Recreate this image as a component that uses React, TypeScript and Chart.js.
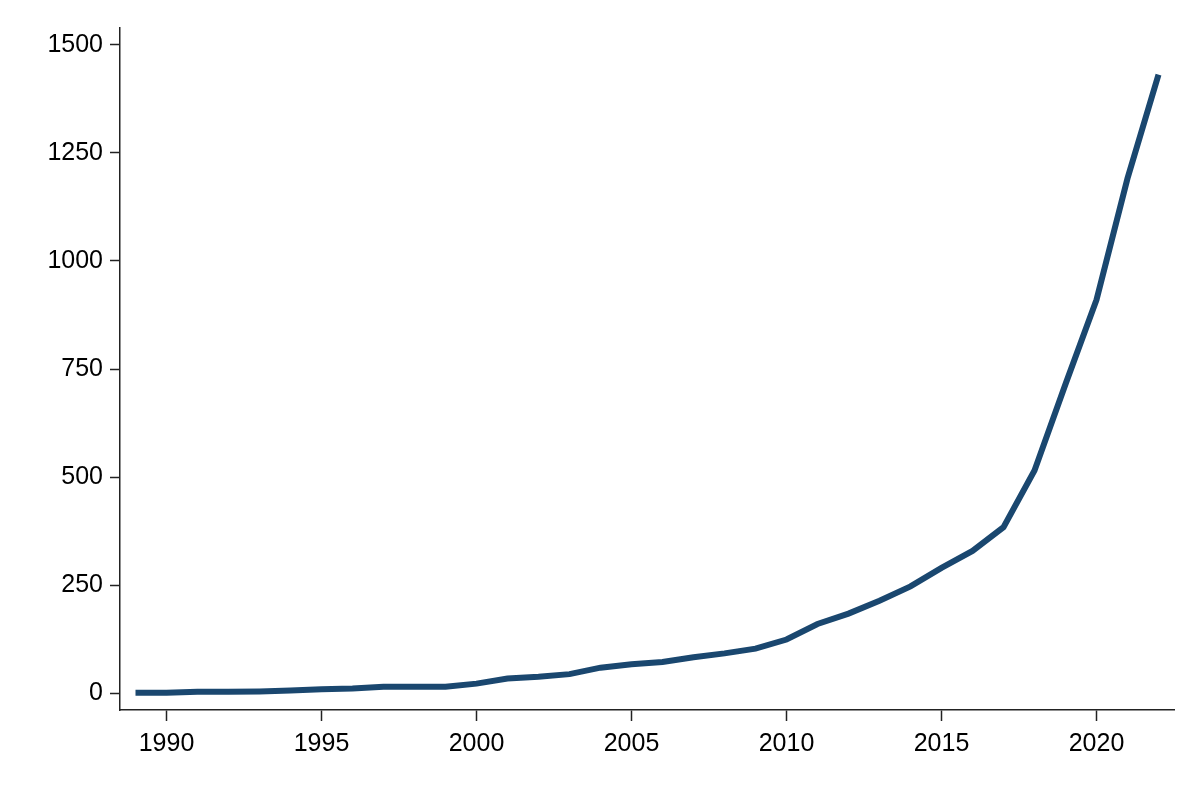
import React, { useEffect, useRef } from "react";
import Chart from "chart.js/auto";

const years: number[] = [
  1989, 1990, 1991, 1992, 1993, 1994, 1995, 1996, 1997, 1998, 1999, 2000,
  2001, 2002, 2003, 2004, 2005, 2006, 2007, 2008, 2009, 2010, 2011, 2012,
  2013, 2014, 2015, 2016, 2017, 2018, 2019, 2020, 2021, 2022,
];
const counts: number[] = [
  1, 1, 3, 3, 4, 6, 9, 11, 15, 15, 15, 22,
  34, 38, 44, 59, 67, 72, 83, 92, 103, 124, 160, 184,
  214, 247, 290, 329, 384, 515, 715, 910, 1191, 1431,
];
const yTicks: number[] = [0, 250, 500, 750, 1000, 1250, 1500];
const xTicks: number[] = [1990, 1995, 2000, 2005, 2010, 2015, 2020];

const App: React.FC = () => {
  const chartRef = useRef<HTMLCanvasElement>(null);
  const chartInstance = useRef<Chart | null>(null);

  useEffect(() => {
    if (!chartRef.current) return;
    if (chartInstance.current) chartInstance.current.destroy();

    const font = { family: "Liberation Sans, Arial, sans-serif", size: 25 };

    chartInstance.current = new Chart(chartRef.current, {
      type: "line",
      data: {
        datasets: [
          {
            data: years.map((y, i) => ({ x: y, y: counts[i] })),
            borderColor: "#1a476f",
            borderWidth: 6,
            pointRadius: 0,
            tension: 0,
            fill: false,
          },
        ],
      },
      options: {
        animation: false,
        responsive: false,
        layout: { padding: { top: 28, right: 26, left: 0, bottom: 0 } },
        plugins: { legend: { display: false }, tooltip: { enabled: false } },
        scales: {
          x: {
            type: "linear",
            min: 1988.5,
            max: 2022.5,
            afterBuildTicks: (axis: any) => {
              axis.ticks = xTicks.map((v) => ({ value: v }));
            },
            afterFit: (axis: any) => {
              axis.height = 90;
            },
            grid: {
              drawOnChartArea: false,
              drawTicks: true,
              tickLength: 11,
              tickWidth: 1.5,
              tickColor: "#222",
            },
            border: { display: true, color: "#222", width: 1.5 },
            ticks: {
              color: "#000",
              font,
              padding: 8,
              maxRotation: 0,
              callback: (v: any) => String(v),
            },
          },
          y: {
            min: -39,
            max: 1539,
            afterBuildTicks: (axis: any) => {
              axis.ticks = yTicks.map((v) => ({ value: v }));
            },
            afterFit: (axis: any) => {
              axis.width = 120;
            },
            grid: {
              drawOnChartArea: false,
              drawTicks: true,
              tickLength: 10,
              tickWidth: 1.5,
              tickColor: "#222",
            },
            border: { display: true, color: "#222", width: 1.5 },
            ticks: {
              color: "#000",
              font,
              padding: 7,
              callback: (v: any) => String(v),
            },
          },
        },
      },
    });

    return () => {
      if (chartInstance.current) {
        chartInstance.current.destroy();
        chartInstance.current = null;
      }
    };
  }, []);

  return (
    <div
      style={{
        position: "fixed",
        left: 0,
        top: 0,
        width: "1200px",
        height: "800px",
        background: "#fff",
      }}
    >
      <canvas ref={chartRef} width={1200} height={800} style={{ width: "1200px", height: "800px" }} />
    </div>
  );
};

export default App;
